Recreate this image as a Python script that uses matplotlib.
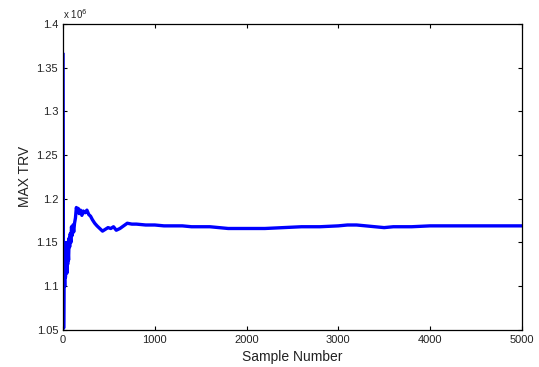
import matplotlib.pyplot as plt
from matplotlib.ticker import FuncFormatter, MultipleLocator

plt.switch_backend("Agg")
plt.rcParams["font.family"] = ["Liberation Sans", "DejaVu Sans"]

# running estimate (sample index, value)
samples = [0, 2, 4, 6, 9, 12, 15, 18, 22, 26, 30, 34, 38, 42, 46, 50, 55, 60,
           66, 72, 78, 85, 92, 100, 108, 116, 125, 135, 145, 155, 165, 175,
           190, 205, 220, 240, 260, 280, 300, 320, 345, 370, 400, 430, 460,
           490, 520, 550, 580, 620, 660, 700, 750, 800, 900, 1000, 1100,
           1200, 1300, 1400, 1500, 1600, 1700, 1800, 1900, 2000, 2100, 2200,
           2400, 2600, 2800, 3000, 3100, 3200, 3300, 3400, 3500, 3600, 3800,
           4000, 4200, 4400, 4600, 4800, 5000]
max_trv = [1.365, 1.25, 1.12, 1.052, 1.09, 1.15, 1.12, 1.10, 1.145, 1.11,
           1.14, 1.12, 1.15, 1.115, 1.145, 1.125, 1.14, 1.13, 1.155, 1.145,
           1.16, 1.15, 1.168, 1.158, 1.17, 1.162, 1.172, 1.178, 1.19, 1.185,
           1.189, 1.183, 1.187, 1.181, 1.186, 1.184, 1.187, 1.182, 1.180,
           1.176, 1.172, 1.169, 1.166, 1.163, 1.165, 1.167, 1.166, 1.168,
           1.164, 1.166, 1.169, 1.172, 1.171, 1.171, 1.170, 1.170, 1.169,
           1.169, 1.169, 1.168, 1.168, 1.168, 1.167, 1.166, 1.166, 1.166,
           1.166, 1.166, 1.167, 1.168, 1.168, 1.169, 1.170, 1.170, 1.169,
           1.168, 1.167, 1.168, 1.168, 1.169, 1.169, 1.169, 1.169, 1.169,
           1.169]

fig = plt.figure(figsize=(5.39, 3.67), dpi=100)
ax = fig.add_axes([0.117, 0.101, 0.851, 0.834])

ax.plot(samples, [v * 1e6 for v in max_trv], color="#0000ff", linewidth=2.4)

ax.set_xlim(0, 5000)
ax.set_ylim(1.05e6, 1.4e6)
ax.xaxis.set_major_locator(MultipleLocator(1000))
ax.yaxis.set_major_locator(MultipleLocator(0.05e6))
ax.yaxis.set_major_formatter(FuncFormatter(lambda v, p: f"{v / 1e6:g}"))

ax.tick_params(direction="in", top=True, right=True, length=3, width=0.8,
               labelsize=8, labelcolor="#222222")
for s in ax.spines.values():
    s.set_linewidth(0.9)

ax.text(0.0, 1.008, r"x 10$^6$", transform=ax.transAxes, fontsize=7,
        ha="left", va="bottom", color="#222222")

ax.set_xlabel("Sample Number", fontsize=10, labelpad=4, color="#222222")
ax.set_ylabel("MAX TRV", fontsize=10, labelpad=3, color="#222222")

fig.savefig("out.png", dpi=100)
plt.close(fig)
